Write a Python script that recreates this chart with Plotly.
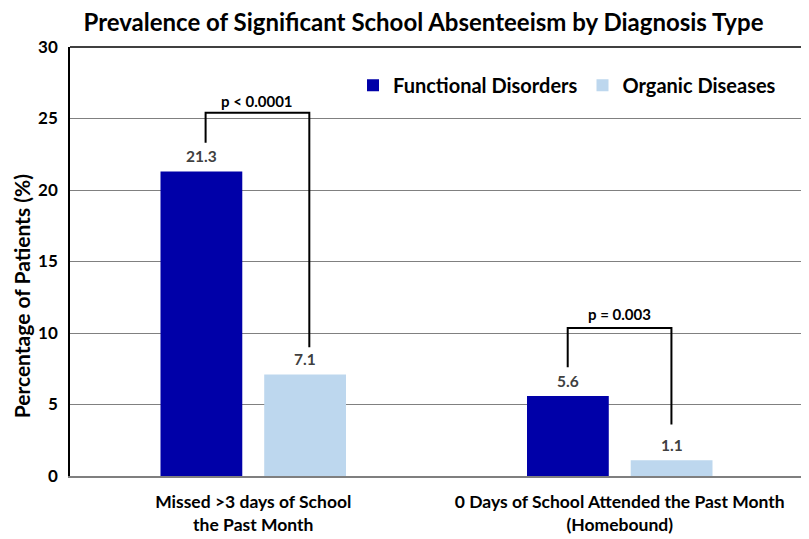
import plotly.graph_objects as go

categories = ["Missed >3 days of School<br>the Past Month",
              "0 Days of School Attended the Past Month<br>(Homebound)"]
series_names = ["Functional Disorders", "Organic Diseases"]
functional = [21.3, 5.6]
organic = [7.1, 1.1]
p_labels = ["p < 0.0001", "p = 0.003"]
y_ticks = [0, 5, 10, 15, 20, 25, 30]

# bracket geometry (data units): [x_left, x_right, y_top, y_left_end, y_right_end, label_y]
brackets = [
    [-0.130, 0.153, 25.4, 23.3, 9.0, 26.2],
    [1 - 0.142, 1 + 0.141, 10.35, 7.6, 3.6, 11.3],
]

FONT = "Lato"
DARK = "#0000A8"
LIGHT = "#BDD7EE"

x_idx = list(range(len(categories)))

fig = go.Figure()
fig.add_trace(go.Bar(x=x_idx, y=functional, name=series_names[0],
                     marker=dict(color=DARK, line=dict(width=0))))
fig.add_trace(go.Bar(x=x_idx, y=organic, name=series_names[1],
                     marker=dict(color=LIGHT, line=dict(width=0))))

# value labels
offsets = [-0.1415, 0.1415]
for vals, off in zip([functional, organic], offsets):
    for i, v in enumerate(vals):
        fig.add_annotation(x=i + off, y=v, text=f"{v}", showarrow=False,
                           yanchor="middle", yshift=15,
                           font=dict(family=FONT, size=15.5, color="#404040", weight="bold"))

# brackets
for (xl, xr, yt, yl, yr, ly), lab in zip(brackets, p_labels):
    fig.add_shape(type="path",
                  path=f"M {xl},{yl} L {xl},{yt} L {xr},{yt} L {xr},{yr}",
                  xref="x", yref="y", line=dict(color="black", width=2))
    fig.add_annotation(x=(xl + xr) / 2, y=ly, text=lab, showarrow=False,
                       yanchor="middle",
                       font=dict(family=FONT, size=15, color="black", weight="bold"))

# top border
fig.add_shape(type="line", xref="paper", yref="paper", x0=0, x1=1, y0=1, y1=1,
              line=dict(color="black", width=1.5))

# y-axis title
fig.add_annotation(xref="paper", yref="paper", x=-0.0662, y=0.42,
                   text="Percentage of Patients (%)", textangle=-90,
                   showarrow=False, xanchor="center", yanchor="middle",
                   font=dict(family=FONT, size=21, color="black", weight="bold"))

fig.update_layout(
    width=801, height=531,
    margin=dict(l=62, r=4, t=39, b=63),
    paper_bgcolor="white", plot_bgcolor="white",
    barmode="group", bargap=0.434, bargroupgap=0.2115,
    title=dict(text="Prevalence of Significant School Absenteeism by Diagnosis Type",
               x=0.5187, xanchor="center", y=0.973, yanchor="middle",
               font=dict(family=FONT, size=24, color="black", weight="bold")),
    legend=dict(orientation="h", x=0.970, xanchor="right", y=0.911, yanchor="middle",
                font=dict(family=FONT, size=20, color="black", weight="bold"),
                bgcolor="rgba(0,0,0,0)", itemclick=False),
    xaxis=dict(tickmode="array", tickvals=x_idx, ticktext=categories,
               range=[-0.5, 1.5], showgrid=False, zeroline=False,
               showline=True, linecolor="#7f7f7f", linewidth=2,
               ticks="", ticklabelstandoff=9,
               tickfont=dict(family=FONT, size=17.5, color="black", weight="bold")),
    yaxis=dict(range=[0, 30], tickvals=y_ticks, showgrid=True,
               gridcolor="#808080", gridwidth=1, zeroline=False,
               showline=True, linecolor="black", linewidth=1.5, mirror=True,
               ticks="", ticklabelstandoff=7,
               tickfont=dict(family=FONT, size=17, color="black", weight="bold")),
    showlegend=True,
)

fig.write_html("out.html")
